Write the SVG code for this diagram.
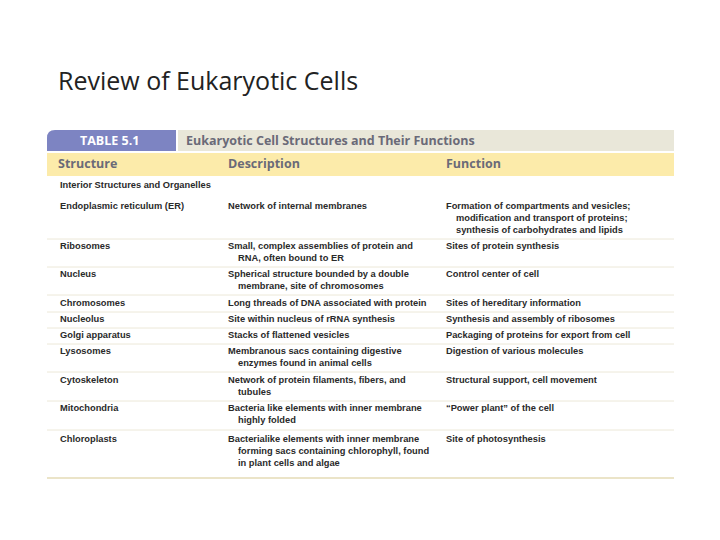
<svg xmlns="http://www.w3.org/2000/svg" width="720" height="540" viewBox="0 0 720 540">
<style>
.t{font-family:"Liberation Sans",Arial,sans-serif;font-weight:bold;font-size:9.3px;fill:#2a2a2a}
.h{font-family:"Open Sans","Liberation Sans",sans-serif;font-weight:bold;font-size:12.5px;fill:#6a6a78}
.sep{stroke:#ece8d8;stroke-width:1}
</style>
<rect width="720" height="540" fill="#fff"/>
<text x="58" y="90" font-family="Open Sans, Liberation Sans, sans-serif" font-size="25" fill="#222">Review of Eukaryotic Cells</text>
<g id="header">
<rect x="178" y="130" width="496" height="21" fill="#e9e7d9"/>
<path d="M47 151 V138 Q47 130 55 130 H176 V151 Z" fill="#7d84c2"/>
<text x="80" y="145" font-family="Open Sans, Liberation Sans, sans-serif" font-weight="bold" font-size="12.5" fill="#fff">TABLE 5.1</text>
<text x="186" y="145" class="h" fill="#5c5c70">Eukaryotic Cell Structures and Their Functions</text>
<rect x="47" y="153" width="627" height="23" fill="#fcebaa"/>
<text x="58" y="168" class="h">Structure</text>
<text x="228" y="168" class="h">Description</text>
<text x="446" y="168" class="h">Function</text>
</g>
<g id="connectors">
<line class="sep" x1="47" y1="239" x2="674" y2="239"/>
<line class="sep" x1="47" y1="267" x2="674" y2="267"/>
<line class="sep" x1="47" y1="295" x2="674" y2="295"/>
<line class="sep" x1="47" y1="312" x2="674" y2="312"/>
<line class="sep" x1="47" y1="328" x2="674" y2="328"/>
<line class="sep" x1="47" y1="344" x2="674" y2="344"/>
<line class="sep" x1="47" y1="372" x2="674" y2="372"/>
<line class="sep" x1="47" y1="401" x2="674" y2="401"/>
<line class="sep" x1="47" y1="430" x2="674" y2="430"/>
<line x1="47" y1="478" x2="674" y2="478" stroke="#ebe4c8" stroke-width="2"/>
</g>
<g id="rows">
<text class="t" x="60" y="188">Interior Structures and Organelles</text>
<text class="t" x="60" y="209">Endoplasmic reticulum (ER)</text>
<text class="t" x="228" y="209">Network of internal membranes</text>
<text class="t" x="446" y="209">Formation of compartments and vesicles;</text>
<text class="t" x="456" y="221">modification and transport of proteins;</text>
<text class="t" x="456" y="233">synthesis of carbohydrates and lipids</text>
<text class="t" x="60" y="249">Ribosomes</text>
<text class="t" x="228" y="249">Small, complex assemblies of protein and</text>
<text class="t" x="238" y="261">RNA, often bound to ER</text>
<text class="t" x="446" y="249">Sites of protein synthesis</text>
<text class="t" x="60" y="277">Nucleus</text>
<text class="t" x="228" y="277">Spherical structure bounded by a double</text>
<text class="t" x="238" y="289">membrane, site of chromosomes</text>
<text class="t" x="446" y="277">Control center of cell</text>
<text class="t" x="60" y="306">Chromosomes</text>
<text class="t" x="228" y="306">Long threads of DNA associated with protein</text>
<text class="t" x="446" y="306">Sites of hereditary information</text>
<text class="t" x="60" y="322">Nucleolus</text>
<text class="t" x="228" y="322">Site within nucleus of rRNA synthesis</text>
<text class="t" x="446" y="322">Synthesis and assembly of ribosomes</text>
<text class="t" x="60" y="338">Golgi apparatus</text>
<text class="t" x="228" y="338">Stacks of flattened vesicles</text>
<text class="t" x="446" y="338">Packaging of proteins for export from cell</text>
<text class="t" x="60" y="354">Lysosomes</text>
<text class="t" x="228" y="354">Membranous sacs containing digestive</text>
<text class="t" x="238" y="366">enzymes found in animal cells</text>
<text class="t" x="446" y="354">Digestion of various molecules</text>
<text class="t" x="60" y="383">Cytoskeleton</text>
<text class="t" x="228" y="383">Network of protein filaments, fibers, and</text>
<text class="t" x="238" y="395">tubules</text>
<text class="t" x="446" y="383">Structural support, cell movement</text>
<text class="t" x="60" y="411">Mitochondria</text>
<text class="t" x="228" y="411">Bacteria like elements with inner membrane</text>
<text class="t" x="238" y="423">highly folded</text>
<text class="t" x="446" y="411">“Power plant” of the cell</text>
<text class="t" x="60" y="442">Chloroplasts</text>
<text class="t" x="228" y="442">Bacterialike elements with inner membrane</text>
<text class="t" x="238" y="454">forming sacs containing chlorophyll, found</text>
<text class="t" x="238" y="466">in plant cells and algae</text>
<text class="t" x="446" y="442">Site of photosynthesis</text>
</g>
</svg>
